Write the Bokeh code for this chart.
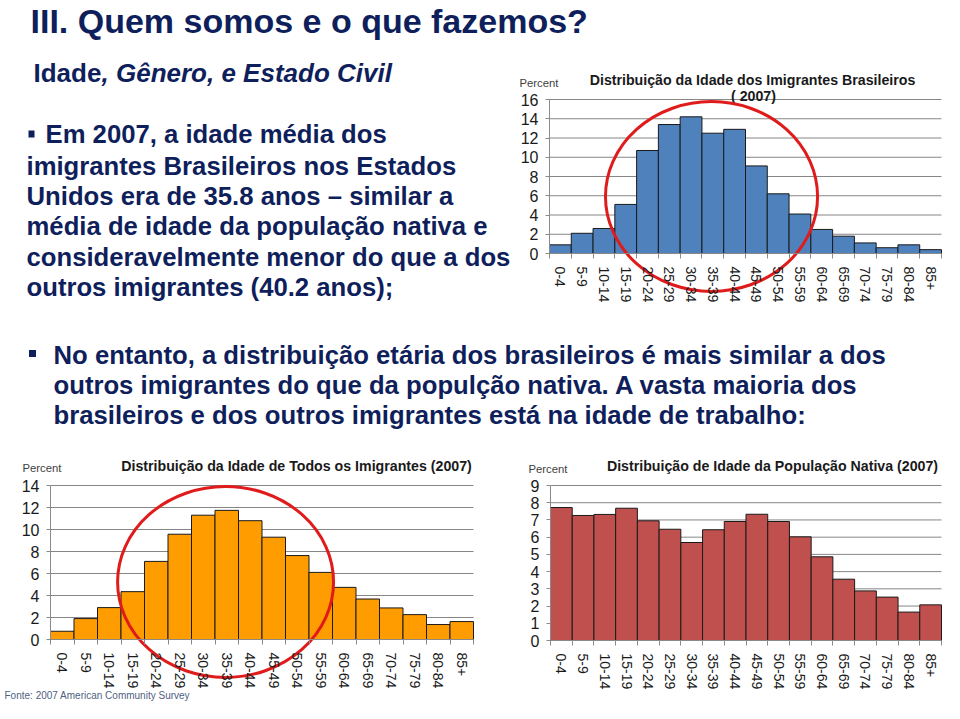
import numpy as np
from bokeh.plotting import figure
from bokeh.models import Range1d, FixedTicker, LinearAxis
from bokeh.embed import file_html
from bokeh.resources import INLINE
from bokeh.core.properties import value

# ---------------- data ----------------
age_groups = ["0-4", "5-9", "10-14", "15-19", "20-24", "25-29", "30-34", "35-39",
              "40-44", "45-49", "50-54", "55-59", "60-64", "65-69", "70-74",
              "75-79", "80-84", "85+"]
brazil_pct = [0.9, 2.1, 2.6, 5.1, 10.7, 13.4, 14.2, 12.5, 12.9, 9.1, 6.2, 4.1,
              2.5, 1.8, 1.1, 0.6, 0.9, 0.4]
all_immigrants_pct = [0.75, 1.9, 2.9, 4.35, 7.1, 9.57, 11.3, 11.74, 10.8, 9.3,
                      7.63, 6.1, 4.74, 3.68, 2.87, 2.26, 1.36, 1.63]
native_pct = [7.72, 7.26, 7.32, 7.68, 6.95, 6.46, 5.69, 6.43, 6.91, 7.33, 6.91,
              6.02, 4.86, 3.56, 2.88, 2.52, 1.65, 2.07]

brazil_ticks = [0, 2, 4, 6, 8, 10, 12, 14, 16]
all_ticks = [0, 2, 4, 6, 8, 10, 12, 14]
native_ticks = [0, 1, 2, 3, 4, 5, 6, 7, 8, 9]

slide_title = "III. Quem somos e o que fazemos?"
subtitle_a = "Idade"
subtitle_b = ", Gênero, e Estado Civil"
bullet1_lines = [
    "Em 2007, a idade média dos",
    "imigrantes Brasileiros nos Estados",
    "Unidos era de 35.8 anos \u2013 similar a",
    "média de idade da população nativa e",
    "consideravelmente menor do que a dos",
    "outros imigrantes (40.2 anos);",
]
bullet2_lines = [
    "No entanto, a distribuição etária dos brasileiros é mais similar a dos",
    "outros  imigrantes do que da populção nativa. A vasta maioria dos",
    "brasileiros e dos outros imigrantes está na idade de trabalho:",
]
chart1_title = ["Distribuição da Idade dos Imigrantes Brasileiros", "( 2007)"]
chart2_title = "Distribuição da Idade de Todos os Imigrantes (2007)"
chart3_title = "Distribuição de Idade da População Nativa (2007)"
source_note = "Fonte: 2007 American Community Survey"

# ---------------- style ----------------
NAVY = "#0F1F5C"
FONT = "Liberation Sans"
AXIS_GRAY = "#8a8a8a"
GRID_GRAY = "#868686"
TEXT_DARK = "#1a1a1a"
RED = "#E01B1B"

W, H = 944, 703

# one canvas, default ranges = page pixels (y downwards)
p = figure(width=W, height=H, x_range=Range1d(0, W), y_range=Range1d(H, 0),
           x_axis_type=None, y_axis_type=None, output_backend="svg",
           toolbar_location=None, min_border=0, title=None)
p.outline_line_color = None
p.background_fill_color = "white"
p.border_fill_color = "white"


def put_text(x, y, txt, size, style="bold", color=NAVY, align="left"):
    # y is the vertical centre of the text line
    p.text(x=[x], y=[y], text=[txt], text_font=value(FONT), text_font_style=style,
           text_font_size=size, text_color=color, text_baseline="middle",
           text_align=align)


# ---------------- slide texts ----------------
put_text(30, 20, slide_title, "34px")
put_text(33, 72, subtitle_a, "26px")
put_text(101, 72, subtitle_b, "26px", style="bold italic")

p.rect(x=[31], y=[133.5], width=6, height=7, fill_color=NAVY, line_color=None)
b1_x = [45, 26, 26, 26, 26, 26]
b1_y = [133.6, 165, 195.3, 225.8, 256.3, 286.8]
for xx, yy, t in zip(b1_x, b1_y, bullet1_lines):
    put_text(xx, yy, t, "25.7px")

p.rect(x=[32], y=[353], width=7, height=7, fill_color=NAVY, line_color=None)
for yy, t in zip([354, 384, 414], bullet2_lines):
    put_text(53, yy, t, "25.7px")

# ---------------- charts ----------------
extra_x, extra_y = {}, {}
n = len(age_groups)
centers = list(np.arange(n) + 0.5)
edges = list(range(n + 1))


def chart(name, px0, px1, py0, pytop, values, yticks, color):
    """px0/px1: pixel x of the plot area; py0: pixel y of value 0; pytop: pixel y of top tick."""
    ymax = yticks[-1]
    ppx = (px1 - px0) / n
    ppy = (py0 - pytop) / ymax
    xn, yn = name + "_x", name + "_y"
    extra_x[xn] = Range1d((0 - px0) / ppx, (W - px0) / ppx)
    extra_y[yn] = Range1d((py0 - H) / ppy, (py0 - 0) / ppy)
    kw = dict(x_range_name=xn, y_range_name=yn)

    # horizontal grid lines at the tick values
    p.segment(x0=[0] * len(yticks), x1=[n] * len(yticks), y0=yticks, y1=yticks,
              line_color=GRID_GRAY, line_width=1, **kw)
    p.vbar(x=centers, top=values, bottom=0, width=1, fill_color=color,
           line_color="#1a1a1a", line_width=1, **kw)

    ya = LinearAxis(fixed_location=0, bounds=(0, ymax), ticker=FixedTicker(ticks=yticks), **kw)
    ya.axis_line_color = AXIS_GRAY
    ya.major_tick_line_color = AXIS_GRAY
    ya.major_tick_out = 4
    ya.major_tick_in = 0
    ya.minor_tick_line_color = None
    ya.major_label_text_font = FONT
    ya.major_label_text_font_size = "16px"
    ya.major_label_text_color = TEXT_DARK
    ya.major_label_standoff = 7
    p.add_layout(ya, "left")

    xa = LinearAxis(fixed_location=0, bounds=(0, n),
                    ticker=FixedTicker(ticks=centers, minor_ticks=edges), **kw)
    xa.major_label_overrides = {float(x): lab for x, lab in zip(centers, age_groups)}
    xa.major_label_orientation = "vertical"
    xa.axis_line_color = AXIS_GRAY
    xa.major_tick_out = 0
    xa.major_tick_in = 0
    xa.major_tick_line_color = None
    xa.minor_tick_out = 5
    xa.minor_tick_in = 0
    xa.minor_tick_line_color = AXIS_GRAY
    xa.major_label_text_font = FONT
    xa.major_label_text_font_size = "14px"
    xa.major_label_text_color = TEXT_DARK
    xa.major_label_standoff = 8
    p.add_layout(xa, "below")
    return kw


def highlight(kw, cx, cy, w, h):
    # red ellipse, given in the chart's own category / percent units
    p.ellipse(x=[cx], y=[cy], width=[w], height=[h], fill_color=None,
              line_color=RED, line_width=3, **kw)


# chart 1 : Brazilian immigrants
k1 = chart("c1", 549, 941, 253, 99, brazil_pct, brazil_ticks, "#4F81BD")
put_text(519, 82, "Percent", "11.3px", style="normal", color="#404040")
put_text(752, 79, chart1_title[0], "14.2px", color=TEXT_DARK, align="center")
put_text(753, 95, chart1_title[1], "14.2px", color=TEXT_DARK, align="center")

# chart 2 : all immigrants
k2 = chart("c2", 50, 473, 639, 485, all_immigrants_pct, all_ticks, "#FF9C00")
put_text(22, 467, "Percent", "11.3px", style="normal", color="#404040")
put_text(296, 465, chart2_title, "14.2px", color=TEXT_DARK, align="center")
put_text(4, 695, source_note, "10px", style="normal", color="#4F5F7F")

# chart 3 : native population
k3 = chart("c3", 550, 941, 640, 485, native_pct, native_ticks, "#C0504D")
put_text(528, 468, "Percent", "11.3px", style="normal", color="#404040")
put_text(772, 465, chart3_title, "14.2px", color=TEXT_DARK, align="center")

p.extra_x_ranges = extra_x
p.extra_y_ranges = extra_y

highlight(k1, 7.44, 5.92, 9.74, 19.74)
highlight(k2, 7.45, 5.23, 9.19, 17.36)

open("out.html", "w").write(file_html(p, INLINE))
